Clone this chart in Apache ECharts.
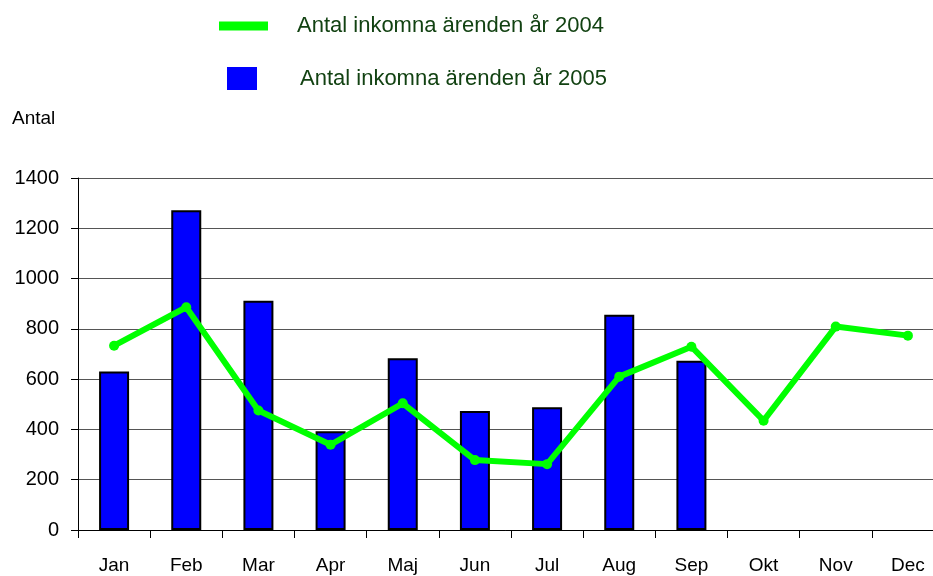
<!DOCTYPE html>
<html>
<head>
<meta charset="utf-8">
<script src="https://cdn.jsdelivr.net/npm/echarts@6/dist/echarts.min.js"></script>
<style>
html, body { margin: 0; padding: 0; background: #fff; }
#chart { width: 933px; height: 576px; }
</style>
</head>
<body>
<div id="chart"></div>
<script>
"use strict"

var months = ["Jan", "Feb", "Mar", "Apr", "Maj", "Jun", "Jul", "Aug", "Sep", "Okt", "Nov", "Dec"];
var arenden2004 = [733, 886, 475, 339, 504, 278, 262, 610, 729, 435, 809, 773];
var arenden2005 = [630, 1272, 912, 393, 683, 473, 488, 856, 673, null, null, null];
var yTicks = [0, 200, 400, 600, 800, 1000, 1200, 1400];
var names = ["Antal inkomna ärenden år 2004", "Antal inkomna ärenden år 2005"];

var font = "'Liberation Sans', Arial, sans-serif";

var chart = echarts.init(document.getElementById("chart"));
var option = {
    animation: false,
    textStyle: { fontFamily: font },
    title: {
        text: "Antal",
        left: 7,
        top: 104,
        textStyle: { fontSize: 19, fontWeight: "normal", color: "#000", fontFamily: font }
    },
    legend: [
        {
            data: [names[0]],
            left: 214,
            top: 10,
            icon: "rect",
            itemWidth: 49,
            itemHeight: 9,
            textStyle: { fontSize: 22, color: "#124212", padding: [0, 0, 0, 24], fontFamily: font }
        },
        {
            data: [names[1]],
            left: 222,
            top: 62,
            icon: "rect",
            itemWidth: 30,
            itemHeight: 23,
            itemStyle: { borderWidth: 0 },
            textStyle: { fontSize: 22, color: "#124212", padding: [0, 0, 0, 38], fontFamily: font }
        }
    ],
    grid: {
        left: 78,
        top: 178,
        height: 352,
        width: 866,
        outerBoundsMode: "none"
    },
    xAxis: {
        type: "category",
        data: months,
        boundaryGap: true,
        axisLine: { lineStyle: { color: "#000", width: 1 } },
        axisTick: { show: true, length: 8, lineStyle: { color: "#000" } },
        axisLabel: { fontSize: 19, color: "#000", margin: 26, fontFamily: font }
    },
    yAxis: {
        type: "value",
        min: yTicks[0],
        max: yTicks[yTicks.length - 1],
        interval: 200,
        axisLine: { show: true, lineStyle: { color: "#000", width: 1 } },
        axisTick: { show: true, length: 7, lineStyle: { color: "#000" } },
        axisLabel: {
            fontSize: 20,
            color: "#000",
            margin: 19,
            fontFamily: font,
            formatter: function (v) { return String(v); }
        },
        splitLine: { lineStyle: { color: "#555", width: 1 } }
    },
    series: [
        {
            name: names[1],
            type: "bar",
            data: arenden2005,
            barWidth: 30,
            itemStyle: { color: "#0000ff", borderColor: "#000", borderWidth: 2 }
        },
        {
            name: names[0],
            type: "line",
            data: arenden2004,
            z: 5,
            symbol: "circle",
            symbolSize: 10,
            lineStyle: { color: "#00ff00", width: 6 },
            itemStyle: { color: "#00ff00" }
        }
    ]
};
chart.setOption(option);
</script>
</body>
</html>
